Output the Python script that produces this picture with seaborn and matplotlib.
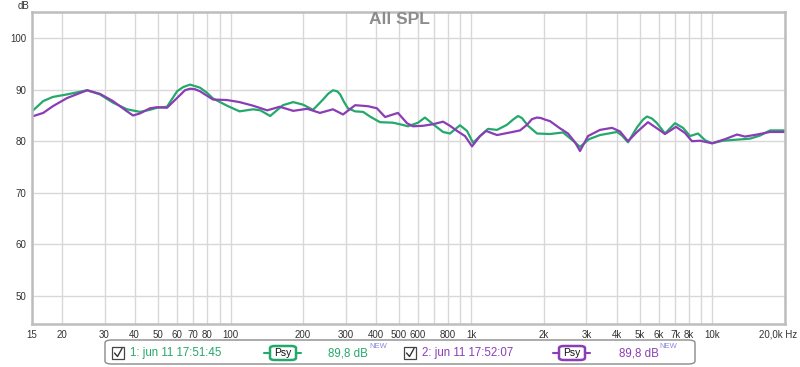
import numpy as np
import pandas as pd
import matplotlib
matplotlib.use("Agg")
import matplotlib.pyplot as plt
import seaborn as sns
from matplotlib.patches import FancyBboxPatch, Rectangle
from matplotlib.lines import Line2D
import matplotlib.transforms as mtransforms

# ---------------- data ----------------
green_freq = [15, 16.7, 18.3, 21.0, 25.4, 28.7, 32.5, 37.2, 42.1, 46.3,
              49.5, 54.5, 60.0, 63.5, 67.9, 74.7, 79.9, 84.6, 96.7, 109, 124, 133,
              146, 165, 182, 200, 220, 242, 254, 266, 277, 285, 296, 307, 329,
              355, 379, 417, 472, 505, 545, 600, 641, 706, 762,
              814, 896, 958, 1015, 1085, 1171, 1276, 1404, 1487, 1560, 1620, 1716,
              1870, 2118, 2398, 2638, 2820, 3074, 3414, 4017, 4213, 4462,
              4863, 5150, 5350, 5613, 5886, 6354, 6991, 7547, 8069, 8710, 9312, 9957,
              11060, 14319, 15756, 17336, 20000]
green_db = [85.8, 87.8, 88.6, 89.1, 89.9, 89.1, 87.5, 86.2, 85.7, 86.1,
            86.5, 86.7, 89.7, 90.5, 91.0, 90.4, 89.4, 88.3, 86.9, 85.8, 86.2, 86.0,
            84.9, 87.0, 87.6, 87.1, 86.1, 88.1, 89.2, 89.9, 89.7, 89.1, 87.6, 86.4, 85.8,
            85.7, 84.8, 83.7, 83.6, 83.3, 82.9, 83.6, 84.6, 83.0, 81.8,
            81.5, 83.1, 82.0, 79.7, 81.0, 82.4, 82.2, 83.2, 84.2, 84.9, 84.5, 83.0,
            81.5, 81.4, 81.7, 80.1, 78.9, 80.4, 81.2, 81.8, 81.1, 79.8,
            82.7, 84.2, 84.8, 84.4, 83.5, 81.5, 83.5, 82.6, 81.0, 81.5, 80.2, 79.6,
            80.1, 80.5, 81.1, 82.1, 82.1]

purple_freq = [15, 16.7, 18.3, 21.0, 25.4, 28.7, 32.5, 37.2, 39.4, 42.1,
               46.3, 49.5, 54.5, 60.0, 64.7, 67.9, 71.2, 74.7, 84.6, 96.7, 109, 124,
               142, 160, 182, 208, 235, 266, 293, 329, 372, 405,
               438, 495, 540, 572, 629, 692, 762, 814, 871, 940,
               1005, 1085, 1149, 1276, 1445, 1590, 1700, 1783, 1870, 1943, 2019, 2118,
               2330, 2515, 2689, 2820, 3044, 3414, 3829, 4133, 4462, 4863,
               5401, 6058, 6354, 7058, 7692, 8224, 8878, 9957, 11274, 12645,
               13650, 15310, 17336, 20000]
purple_db = [84.8, 85.5, 86.8, 88.4, 89.9, 89.2, 87.8, 85.8, 85.0, 85.4,
             86.4, 86.6, 86.5, 88.4, 89.9, 90.2, 90.1, 89.7, 88.1, 88.0, 87.6, 86.9,
             86.0, 86.7, 85.9, 86.3, 85.5, 86.2, 85.2, 87.0, 86.8, 86.4,
             84.7, 85.5, 83.5, 82.9, 83.0, 83.3, 83.8, 83.0, 82.0, 81.0,
             79.0, 81.0, 82.0, 81.2, 81.7, 82.1, 83.2, 84.3, 84.6, 84.5, 84.2, 83.9,
             82.5, 81.5, 79.8, 78.1, 81.0, 82.2, 82.6, 81.9, 80.0, 81.8,
             83.7, 82.1, 81.4, 82.8, 81.6, 80.0, 80.1, 79.6, 80.4, 81.3,
             80.9, 81.3, 81.8, 81.8]

series_names = ["1: jun 11 17:51:45", "2: jun 11 17:52:07"]
series_level = ["89,8 dB", "89,8 dB"]
x_tick_values = [15, 20, 30, 40, 50, 60, 70, 80, 100, 200, 300, 400, 500, 600, 800,
                 1000, 2000, 3000, 4000, 5000, 6000, 7000, 8000, 10000, 20000]
x_tick_labels = ["15", "20", "30", "40", "50", "60", "70", "80", "100", "200", "300",
                 "400", "500", "600", "800", "1k", "2k", "3k", "4k", "5k", "6k", "7k",
                 "8k", "10k", "20,0k Hz"]
y_tick_values = [50, 60, 70, 80, 90, 100]

GREEN = "#25a86b"
PURPLE = "#8a3db5"
GRID = "#d8d8d8"
FRAME = "#bdbdbd"
TXT = "#333333"

df = pd.concat([
    pd.DataFrame({"freq": green_freq, "dB": green_db, "series": series_names[0]}),
    pd.DataFrame({"freq": purple_freq, "dB": purple_db, "series": series_names[1]}),
])

sns.set_style("white")
plt.rcParams["font.family"] = ["Liberation Sans", "DejaVu Sans"]

W, H = 800, 367
fig = plt.figure(figsize=(W / 100, H / 100), dpi=100)

def fx(x):
    return x / W

def fy(y):
    return 1 - y / H

ax = fig.add_axes([fx(32), fy(324), (785 - 32) / W, (324 - 12) / H])

sns.lineplot(data=df, x="freq", y="dB", hue="series",
             palette=[GREEN, PURPLE], estimator=None, sort=True,
             linewidth=1.6, legend=False, ax=ax)
for ln in ax.get_lines():
    ln.set_solid_joinstyle("round")

ax.set_xscale("log")
ax.set_xlim(15, 20000)
ax.set_ylim(44.5, 105.1)

minor = []
for dec in [10, 100, 1000, 10000]:
    for m in range(1, 10):
        v = dec * m
        if 15 < v < 20000 and v not in x_tick_values:
            minor.append(v)
ax.set_xticks(x_tick_values)
ax.set_xticklabels(x_tick_labels)
ax.set_xticks(minor, minor=True)
ax.xaxis.set_minor_formatter(matplotlib.ticker.NullFormatter())
ax.set_yticks(y_tick_values)
ax.set_yticklabels([str(v) for v in y_tick_values])

ax.grid(True, which="both", axis="x", color=GRID, linewidth=1)
ax.grid(True, which="major", axis="y", color=GRID, linewidth=1)
ax.set_axisbelow(True)
ax.tick_params(axis="both", which="both", length=0, labelsize=7, colors=TXT)
ax.tick_params(axis="x", pad=4)
ax.tick_params(axis="y", pad=4)
ax.set_xlabel("")
ax.set_ylabel("")
for s in ax.spines.values():
    s.set_color(FRAME)
    s.set_linewidth(1.8)

# shift last label ("20,0k Hz") so it ends at the right edge
last = ax.get_xticklabels()[-1]
last.set_ha("right")
last.set_transform(last.get_transform() +
                   mtransforms.ScaledTranslation(12 / 100, 0, fig.dpi_scale_trans))

fig.text(fx(399), fy(20), "All SPL", ha="center", va="center",
         fontsize=12.5, fontweight="bold", color="#8c8c8c")
fig.text(fx(18), fy(6), "dB", ha="left", va="center", fontsize=7, color=TXT)

# ---------------- legend strip ----------------
box = FancyBboxPatch((fx(105), fy(364)), fx(695) - fx(105), fy(340) - fy(364),
                     boxstyle="round,pad=0,rounding_size=0.008",
                     transform=fig.transFigure, facecolor="white",
                     edgecolor="#8a8a8a", linewidth=1.0)
fig.add_artist(box)

renderer = fig.canvas.get_renderer()

def legend_item(x0, color, name, psy_c, lvl_x, level):
    yc = 353
    # checkbox
    fig.add_artist(Rectangle((fx(x0), fy(359)), fx(12), 12 / H, transform=fig.transFigure,
                             facecolor="white", edgecolor="#444444", linewidth=0.9))
    fig.add_artist(Line2D([fx(x0 + 2.5), fx(x0 + 5.5), fx(x0 + 10)],
                          [fy(353), fy(356.5), fy(348.5)], transform=fig.transFigure,
                          color="#333333", linewidth=1.0))
    fig.text(fx(x0 + 18), fy(yc), name, ha="left", va="center", fontsize=8.3, color=color)
    # Psy badge
    fig.add_artist(Line2D([fx(psy_c - 19), fx(psy_c + 18)], [fy(yc), fy(yc)],
                          transform=fig.transFigure, color=color, linewidth=1.5, zorder=2))
    fig.add_artist(FancyBboxPatch((fx(psy_c - 13), fy(360)), 26 / W, 14 / H,
                                  boxstyle="round,pad=0,rounding_size=0.006",
                                  transform=fig.transFigure, facecolor="white",
                                  edgecolor=color, linewidth=1.8, zorder=3))
    fig.text(fx(psy_c), fy(yc), "Psy", ha="center", va="center", fontsize=7.4,
             color="#111111", zorder=4)
    t = fig.text(fx(lvl_x), fy(yc), level, ha="left", va="center", fontsize=8.3, color=color)
    bb = t.get_window_extent(renderer=renderer)
    fig.text(bb.x1 / W + 1 / W, fy(347), "NEW", ha="left", va="center", fontsize=5.5,
             color="#8b85e0")

legend_item(112, GREEN, series_names[0], 283, 328, series_level[0])
legend_item(404, PURPLE, series_names[1], 572, 619, series_level[1])

fig.savefig("out.png", dpi=100, facecolor="white")
